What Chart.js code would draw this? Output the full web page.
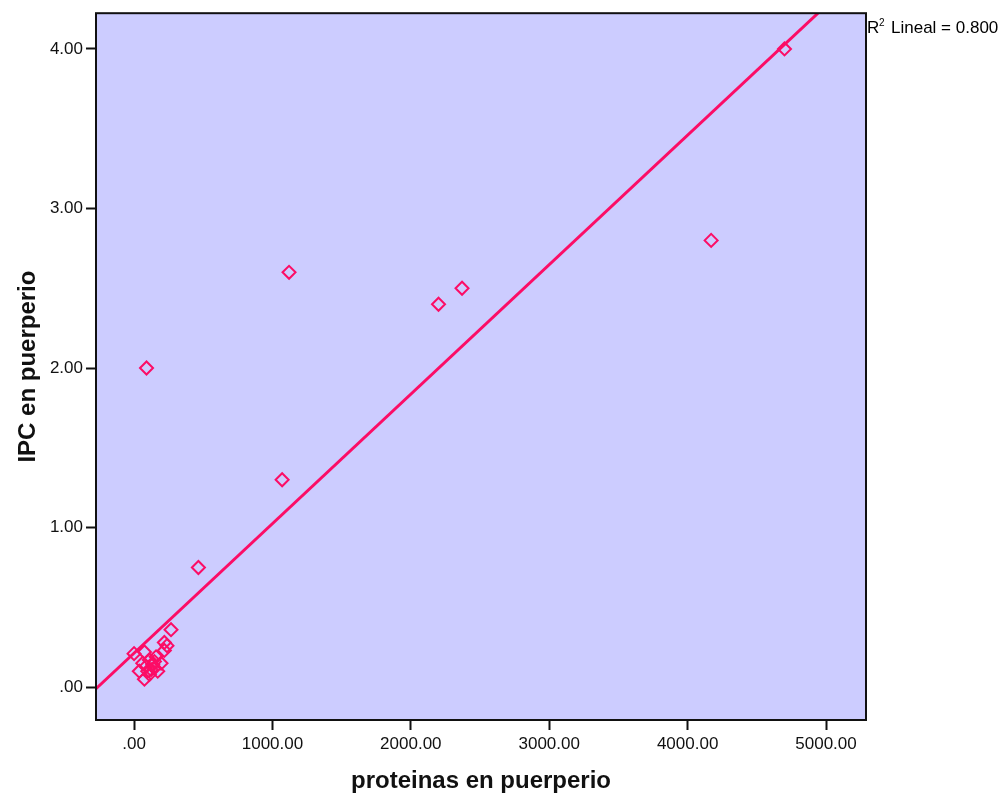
<!DOCTYPE html>
<html>
<head>
<meta charset="utf-8">
<script src="https://cdn.jsdelivr.net/npm/chart.js@4/dist/chart.umd.min.js"></script>
<style>
  html, body { margin: 0; padding: 0; background: #fff; }
  #wrap { width: 1008px; height: 799px; }
</style>
</head>
<body>
<div id="wrap"><canvas id="scatter"></canvas></div>
<script>
// proteinas (x) vs IPC (y) en puerperio
const proteinas = [
  4700, 4170, 2370, 2200, 1120, 1070, 90, 465,
  267, 0, 75, 219, 238, 219, 159, 195, 111, 135, 87, 38,
  75, 99, 123, 147, 171, 111, 147, 63
];
const ipc = [
  4.00, 2.80, 2.50, 2.40, 2.60, 1.30, 2.00, 0.75,
  0.36, 0.21, 0.22, 0.28, 0.26, 0.23, 0.19, 0.15, 0.17, 0.14, 0.13, 0.10,
  0.05, 0.10, 0.11, 0.12, 0.10, 0.08, 0.16, 0.15
];

// fit line endpoints
const fitX = [-275, 4942];
const fitY = [-0.01, 4.224];

const xTicks = [0, 1000, 2000, 3000, 4000, 5000];
const yTicks = [0, 1, 2, 3, 4];

const MARK = '#fc0d66';
const FONT = '"Liberation Sans", Arial, sans-serif';

const fmt = v => v === 0 ? '.00' : v.toFixed(2);

const frame = {
  id: 'frame',
  beforeDraw(chart) {
    const { ctx, chartArea: a } = chart;
    ctx.save();
    ctx.fillStyle = '#ccccff';
    ctx.fillRect(a.left, a.top, a.right - a.left, a.bottom - a.top);
    ctx.restore();
  },
  afterDraw(chart) {
    const { ctx, chartArea: a } = chart;
    ctx.save();
    ctx.strokeStyle = '#111';
    ctx.lineWidth = 2;
    ctx.strokeRect(a.left, a.top, a.right - a.left, a.bottom - a.top);
    // R² label
    ctx.fillStyle = '#000';
    ctx.textBaseline = 'alphabetic';
    ctx.font = '17px ' + FONT;
    ctx.fillText('R', a.right + 1, 33);
    ctx.font = '10px ' + FONT;
    ctx.fillText('2', a.right + 13, 26);
    ctx.font = '17px ' + FONT;
    ctx.fillText('Lineal = 0.800', a.right + 25, 33);
    ctx.restore();
  }
};

new Chart(document.getElementById('scatter'), {
  type: 'scatter',
  data: {
    datasets: [
      {
        label: 'IPC',
        data: proteinas.map((x, i) => ({ x, y: ipc[i] })),
        pointStyle: 'rectRot',
        pointRadius: 6.5,
        pointBorderWidth: 2,
        pointBorderColor: MARK,
        pointBackgroundColor: 'rgba(0,0,0,0)',
        order: 2
      },
      {
        label: 'Lineal',
        data: fitX.map((x, i) => ({ x, y: fitY[i] })),
        showLine: true,
        borderColor: MARK,
        borderWidth: 3,
        pointRadius: 0,
        order: 1
      }
    ]
  },
  options: {
    responsive: true,
    maintainAspectRatio: false,
    animation: false,
    layout: { padding: { top: 12, right: 142, left: 0, bottom: 0 } },
    plugins: { legend: { display: false }, tooltip: { enabled: false } },
    scales: {
      x: {
        type: 'linear',
        min: -275,
        max: 5289,
        afterBuildTicks: s => { s.ticks = xTicks.map(value => ({ value })); },
        afterFit: s => { s.height = 79; },
        grid: { drawOnChartArea: false, drawTicks: true, tickLength: 10, tickWidth: 2, tickColor: '#111' },
        border: { display: false },
        ticks: { color: '#111', padding: 4, font: { size: 17, family: FONT }, callback: fmt, maxRotation: 0 },
        title: {
          display: true,
          text: 'proteinas en puerperio',
          color: '#111',
          font: { size: 24, weight: 'bold', family: FONT },
          padding: { top: 0, bottom: 3 }
        }
      },
      y: {
        type: 'linear',
        min: -0.206,
        max: 4.224,
        afterBuildTicks: s => { s.ticks = yTicks.map(value => ({ value })); },
        afterFit: s => { s.width = 96; },
        grid: { drawOnChartArea: false, drawTicks: true, tickLength: 10, tickWidth: 2, tickColor: '#111' },
        border: { display: false },
        ticks: { color: '#111', padding: 3, font: { size: 17, family: FONT }, callback: fmt },
        title: {
          display: true,
          text: 'IPC en puerperio',
          color: '#111',
          font: { size: 24, weight: 'bold', family: FONT },
          padding: { top: 14, bottom: 0 }
        }
      }
    }
  },
  plugins: [frame]
});
</script>
</body>
</html>
